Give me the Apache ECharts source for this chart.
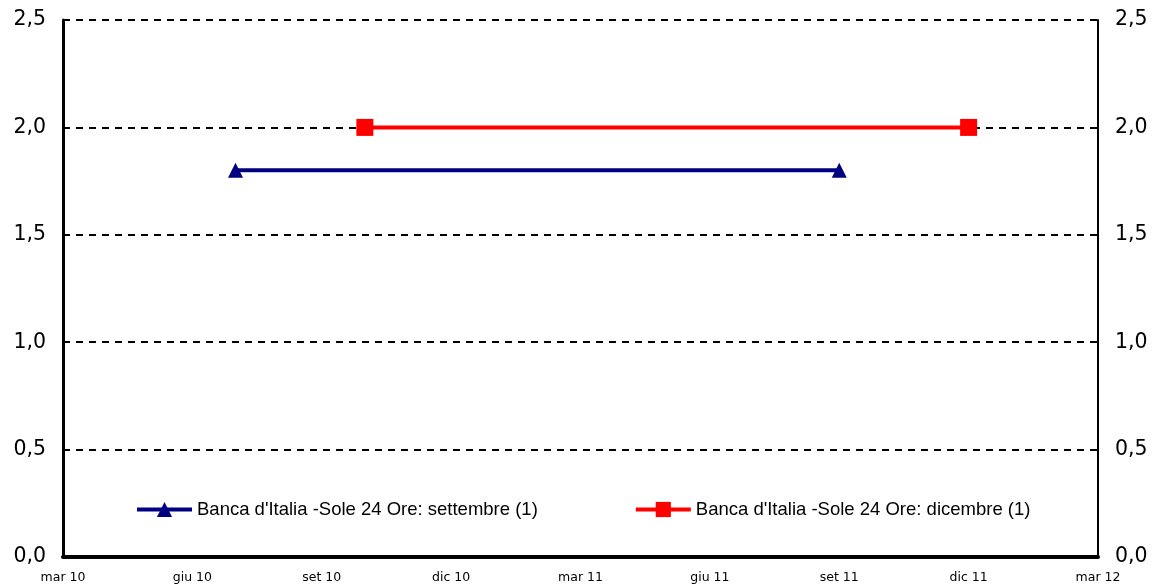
<!DOCTYPE html>
<html>
<head>
<meta charset="utf-8">
<script src="https://cdn.jsdelivr.net/npm/echarts@6/dist/echarts.min.js"></script>
<style>
  html, body { margin: 0; padding: 0; background: #ffffff; }
  #chart { width: 1153px; height: 584px; }
</style>
</head>
<body>
<div id="chart"></div>
<script>
// Month axis: 0 = mar 10 ... 24 = mar 12, labelled every quarter
const tickLabels = ['mar 10', 'giu 10', 'set 10', 'dic 10', 'mar 11', 'giu 11', 'set 11', 'dic 11', 'mar 12'];

const nameSettembre = "Banca d'Italia -Sole 24 Ore: settembre (1)";
const nameDicembre = "Banca d'Italia -Sole 24 Ore: dicembre (1)";

// Forecast horizon (month index) and value for each survey
const settembreMonths = [4, 18];
const settembreValues = [1.8, 1.8];
const dicembreMonths = [7, 21];
const dicembreValues = [2.0, 2.0];

const pairs = (xs, ys) => xs.map((x, i) => [x, ys[i]]);
const fmtComma = v => v.toFixed(1).replace('.', ',');

const yLabelStyle = {
  formatter: fmtComma,
  color: '#000',
  fontFamily: 'DejaVu Sans',
  fontSize: 20.5,
  margin: 17
};

const chart = echarts.init(document.getElementById('chart'), null, { renderer: 'canvas' });
chart.setOption({
  animation: false,
  backgroundColor: '#ffffff',
  grid: { left: 63, right: 55, top: 20, bottom: 27, containLabel: false },
  legend: {
    left: 130,
    top: 495,
    itemGap: 96,
    itemWidth: 55,
    itemHeight: 19,
    itemTextGap: 1,
    lineStyle: { width: 4 },
    textStyle: { fontFamily: 'Liberation Sans', fontSize: 18.5, color: '#000' },
    data: [nameSettembre, nameDicembre]
  },
  xAxis: {
    type: 'value',
    min: 0,
    max: 24,
    interval: 3,
    axisTick: { show: false },
    splitLine: { show: false },
    axisLine: { show: true, onZero: false, lineStyle: { color: '#000', width: 4 } },
    axisLabel: {
      formatter: v => tickLabels[Math.round(v / 3)],
      color: '#000',
      fontFamily: 'DejaVu Sans',
      fontSize: 12.5,
      margin: 14,
      showMinLabel: true,
      showMaxLabel: true
    }
  },
  yAxis: [
    {
      type: 'value', position: 'left', min: 0, max: 2.5, interval: 0.5,
      axisTick: { show: false },
      axisLine: { show: true, lineStyle: { color: '#000', width: 3 } },
      axisLabel: yLabelStyle,
      splitLine: { show: true, lineStyle: { color: '#000', width: 2, type: [7, 6] } }
    },
    {
      type: 'value', position: 'right', min: 0, max: 2.5, interval: 0.5,
      axisTick: { show: false },
      axisLine: { show: true, lineStyle: { color: '#000', width: 2 } },
      axisLabel: yLabelStyle,
      splitLine: { show: false }
    }
  ],
  series: [
    {
      name: nameSettembre,
      type: 'line',
      data: pairs(settembreMonths, settembreValues),
      symbol: 'triangle',
      symbolSize: 15,
      showAllSymbol: true,
      color: '#000080',
      lineStyle: { color: '#000080', width: 4 },
      itemStyle: { color: '#000080' }
    },
    {
      name: nameDicembre,
      type: 'line',
      data: pairs(dicembreMonths, dicembreValues),
      symbol: 'rect',
      symbolSize: 17,
      showAllSymbol: true,
      color: '#ff0000',
      lineStyle: { color: '#ff0000', width: 4 },
      itemStyle: { color: '#ff0000' }
    }
  ]
});
</script>
</body>
</html>
